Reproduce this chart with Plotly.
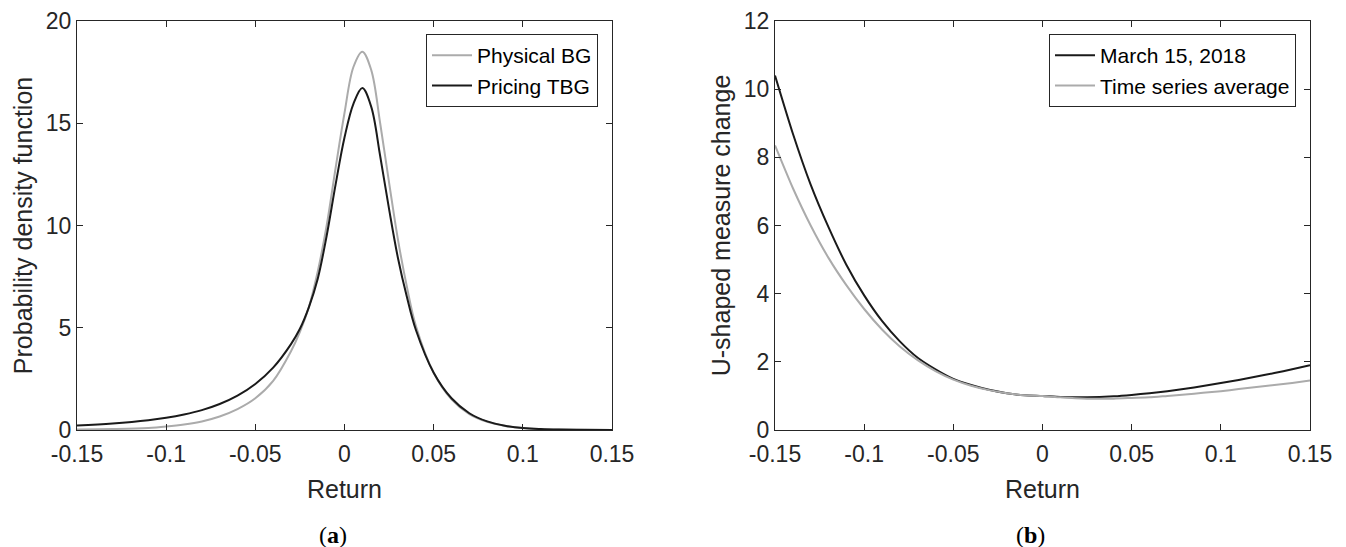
import plotly.graph_objects as go

# ---------------- data ----------------
# Panel (a): probability density functions
ret_a = [-0.15, -0.13, -0.11, -0.10, -0.09, -0.08, -0.07, -0.06, -0.05, -0.04, -0.03,
         -0.025, -0.02, -0.015, -0.01, -0.005, 0.0, 0.005, 0.01, 0.015, 0.02,
         0.025, 0.03, 0.035, 0.04, 0.05, 0.06, 0.07, 0.08, 0.09, 0.10, 0.11, 0.12, 0.135, 0.15]
physical_bg = [0.03, 0.05, 0.10, 0.17, 0.27, 0.42, 0.66, 1.02, 1.55, 2.4, 3.85,
               4.8, 6.0, 7.75, 10.0, 12.8, 15.5, 17.75, 18.5, 17.6, 15.0,
               12.1, 9.3, 7.0, 5.1, 2.8, 1.5, 0.78, 0.40, 0.20, 0.095, 0.045, 0.02, 0.006, 0.002]
pricing_tbg = [0.22, 0.32, 0.48, 0.60, 0.76, 0.97, 1.27, 1.68, 2.25, 3.05, 4.2,
               4.95, 6.0, 7.4, 9.5, 12.0, 14.3, 15.95, 16.72, 15.8, 13.4,
               10.8, 8.4, 6.5, 4.9, 2.8, 1.55, 0.82, 0.42, 0.21, 0.10, 0.05, 0.025, 0.008, 0.003]

# Panel (b): U-shaped measure change
ret_b = [-0.15, -0.14, -0.13, -0.12, -0.11, -0.10, -0.09, -0.08, -0.07, -0.06, -0.05,
         -0.04, -0.03, -0.02, -0.01, 0.0, 0.01, 0.025, 0.04, 0.05, 0.06, 0.07, 0.08,
         0.09, 0.10, 0.11, 0.12, 0.13, 0.14, 0.15]
march_2018 = [10.4, 8.7, 7.2, 5.95, 4.85, 3.95, 3.2, 2.6, 2.12, 1.78, 1.5,
              1.32, 1.18, 1.08, 1.02, 1.0, 0.97, 0.96, 0.99, 1.03, 1.08, 1.14, 1.21,
              1.29, 1.38, 1.47, 1.57, 1.67, 1.78, 1.9]
ts_average = [8.35, 7.1, 6.0, 5.05, 4.25, 3.55, 2.95, 2.45, 2.05, 1.73, 1.48,
              1.3, 1.17, 1.08, 1.02, 1.0, 0.96, 0.92, 0.92, 0.94, 0.96, 1.0, 1.04,
              1.09, 1.14, 1.2, 1.26, 1.32, 1.38, 1.45]

x_tickvals = [-0.15, -0.1, -0.05, 0, 0.05, 0.1, 0.15]
x_ticktext = ["-0.15", "-0.1", "-0.05", "0", "0.05", "0.1", "0.15"]
ya_tickvals = [0, 5, 10, 15, 20]
yb_tickvals = [0, 2, 4, 6, 8, 10, 12]

BLACK = "#1a1a1a"
GRAY = "#ababab"
AX = "#262626"
FONT = "Liberation Sans"

fig = go.Figure()
fig.add_trace(go.Scatter(x=ret_a, y=physical_bg, mode="lines", name="Physical BG",
                         line=dict(color=GRAY, width=2, shape="spline", smoothing=1.0),
                         xaxis="x", yaxis="y", legend="legend"))
fig.add_trace(go.Scatter(x=ret_a, y=pricing_tbg, mode="lines", name="Pricing TBG",
                         line=dict(color=BLACK, width=2, shape="spline", smoothing=1.0),
                         xaxis="x", yaxis="y", legend="legend"))
fig.add_trace(go.Scatter(x=ret_b, y=march_2018, mode="lines", name="March 15, 2018",
                         line=dict(color=BLACK, width=2, shape="spline", smoothing=0.6),
                         xaxis="x2", yaxis="y2", legend="legend2"))
fig.add_trace(go.Scatter(x=ret_b, y=ts_average, mode="lines", name="Time series average",
                         line=dict(color=GRAY, width=2, shape="spline", smoothing=0.6),
                         xaxis="x2", yaxis="y2", legend="legend2"))

W, H = 1346, 547
top_y = 1 - 21 / H
bot_y = 1 - 430 / H

def xax(domain, anchor):
    return dict(domain=domain, anchor=anchor, range=[-0.15, 0.15], automargin=False,
                tickvals=x_tickvals, ticktext=x_ticktext,
                showline=True, linecolor=AX, linewidth=1, mirror="ticks",
                ticks="inside", ticklen=6, tickcolor=AX, showgrid=False, zeroline=False,
                ticklabelstandoff=3,
                tickfont=dict(family=FONT, size=23, color=AX),
                title=dict(text="Return", font=dict(family=FONT, size=25, color=AX), standoff=14))

def yax(domain, anchor, rng, vals, title):
    return dict(domain=domain, anchor=anchor, range=rng, tickvals=vals, automargin=False,
                showline=True, linecolor=AX, linewidth=1, mirror="ticks",
                ticks="inside", ticklen=6, tickcolor=AX, showgrid=False, zeroline=False,
                tickfont=dict(family=FONT, size=23, color=AX),
                title=dict(text=title, font=dict(family=FONT, size=25, color=AX), standoff=6))

legend_style = dict(font=dict(family=FONT, size=21, color="#000000"),
                    bgcolor="white", bordercolor=AX, borderwidth=1,
                    xanchor="right", yanchor="top", itemwidth=40,
                    tracegroupgap=0)

fig.update_layout(
    template="none",
    width=W, height=H,
    margin=dict(l=0, r=0, t=0, b=0),
    paper_bgcolor="white", plot_bgcolor="white",
    showlegend=True,
    xaxis=xax([77 / W, 612 / W], "y"),
    yaxis=yax([bot_y, top_y], "x", [0, 20], ya_tickvals, "Probability density function"),
    xaxis2=xax([775 / W, 1310 / W], "y2"),
    yaxis2=yax([bot_y, top_y], "x2", [0, 12], yb_tickvals, "U-shaped measure change"),
    legend=dict(x=598 / W, y=1 - 34 / H, **legend_style),
    legend2=dict(x=1296 / W, y=1 - 34 / H, **legend_style),
    annotations=[
        dict(text="(<b>a</b>)", x=333 / W, y=1 - 535 / H, xref="paper", yref="paper",
             showarrow=False, xanchor="center", yanchor="middle",
             font=dict(family="Liberation Serif", size=24, color="#000000")),
        dict(text="(<b>b</b>)", x=1030 / W, y=1 - 535 / H, xref="paper", yref="paper",
             showarrow=False, xanchor="center", yanchor="middle",
             font=dict(family="Liberation Serif", size=24, color="#000000")),
    ],
)

fig.write_html(
    "out.html",
    config={"displayModeBar": False},
    post_script="document.body.style.margin='0';document.body.style.overflow='hidden';",
)
